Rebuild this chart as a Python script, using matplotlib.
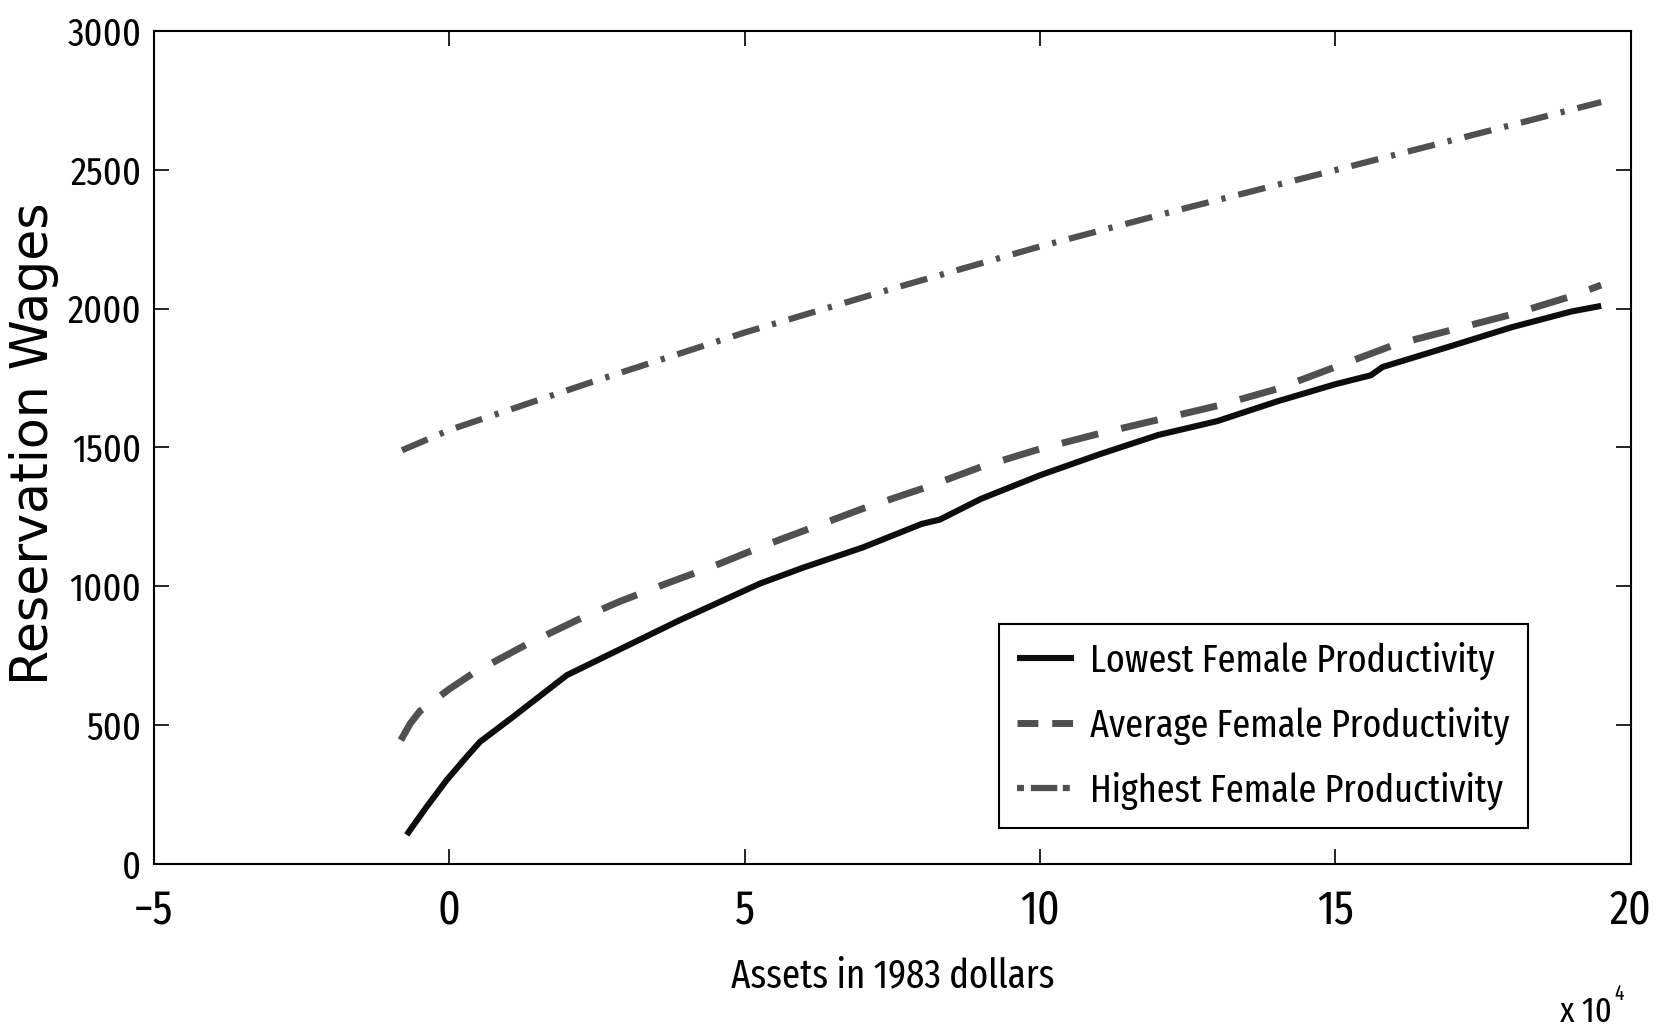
import os
import matplotlib
matplotlib.use("Agg")
import matplotlib.pyplot as plt
from matplotlib import font_manager
from matplotlib.font_manager import FontProperties

plt.rcParams['lines.scale_dashes'] = False

# ---------------- data (assets in units of 10^4 1983 dollars) ----------------
x_low = [-0.72, -0.665, -0.383, -0.045, 0.294, 0.52, 1.08, 1.99, 2.78, 3.9, 5.26, 6.0,
         7.0, 8.0, 8.3, 9.0, 10.0, 11.0, 12.0, 13.0, 14.0, 15.0, 15.6, 15.8, 17.0, 18.0,
         19.0, 19.5]
y_low = [105, 122, 206, 302, 386, 440, 530, 680, 762, 878, 1010, 1068,
         1140, 1225, 1240, 1315, 1400, 1475, 1545, 1595, 1665, 1728, 1760, 1790, 1868, 1934,
         1990, 2010]

x_avg = [-0.82, -0.66, -0.5, -0.3, 0.0, 0.41, 1.31, 2.18, 2.88, 3.65, 4.5, 5.37, 6.0, 7.0,
         8.05, 9.0, 10.0, 11.0, 12.0, 13.0, 14.0, 15.0, 16.0, 17.0, 18.0, 19.0, 19.5]
y_avg = [446, 506, 550, 582, 630, 688, 791, 880, 945, 1008, 1075, 1150, 1200, 1280,
         1355, 1430, 1495, 1550, 1600, 1650, 1710, 1790, 1870, 1925, 1980, 2045, 2085]

x_high = [-0.8, 0.0, 2.5, 5.0, 7.5, 10.0, 12.5, 15.0, 17.5, 19.5]
y_high = [1490, 1563, 1742, 1914, 2072, 2224, 2364, 2499, 2635, 2744]

labels = ['Lowest Female Productivity', 'Average Female Productivity',
          'Highest Female Productivity']
xticks = [-5, 0, 5, 10, 15, 20]
yticks = [0, 500, 1000, 1500, 2000, 2500, 3000]
xlabel = 'Assets in 1983 dollars'
ylabel = 'Reservation Wages'


# ---------------- pick a narrow sans font if one is installed ----------------
def pick_narrow():
    best = None
    for f in font_manager.fontManager.ttflist:
        b = os.path.basename(f.fname).lower().replace('-', '').replace('_', '')
        if f.style != 'normal':
            continue
        if any(k in b for k in ('bold', 'italic', 'oblique', 'light', 'thin', 'medium',
                                'black', 'mono', 'semibold', 'extrabold')):
            continue
        if 'serif' in b and 'sans' not in b:
            continue
        if 'extracondensed' in b:
            rank = 0
        elif 'narrow' in b:
            rank = 1
        elif 'semicondensed' in b:
            rank = 3
        elif 'ultracondensed' in b:
            rank = 4
        elif 'condensed' in b:
            rank = 2
        else:
            continue
        if best is None or rank < best[0]:
            best = (rank, f.fname)
    if best is None:
        return FontProperties(family='Liberation Sans')
    return FontProperties(fname=best[1])


fp = pick_narrow()
fp_y = FontProperties(family='DejaVu Sans')

fig = plt.figure(figsize=(16.64, 10.33), dpi=100)
ax = fig.add_axes([0.0925, 0.1636, 0.8875, 0.8064])
fig.canvas.draw()
renderer = fig.canvas.get_renderer()


def size_for(text, prop, target_px, vertical=False):
    t = fig.text(0, 0, text, fontproperties=prop, fontsize=100,
                 rotation=90 if vertical else 0)
    bb = t.get_window_extent(renderer)
    t.remove()
    return 100.0 * target_px / (bb.height if vertical else bb.width)


def height_px(text, prop, size):
    t = fig.text(0, 0, text, fontproperties=prop, fontsize=size)
    bb = t.get_window_extent(renderer)
    t.remove()
    return bb.height


s_xt = size_for('10', fp, 40)
s_yt = size_for('2500', fp, 71)
s_xl = size_for(xlabel, fp, 324)
s_yl = size_for(ylabel, fp_y, 483, vertical=True)
s_lg = size_for(labels[0], fp, 404)
s_ex = size_for('x 10', fp, 52)

# ---------------- plot ----------------
ax.plot(x_low, y_low, color='#0d0d0d', lw=4.4, solid_capstyle='butt',
        solid_joinstyle='round', label=labels[0])
ax.plot(x_avg, y_avg, color='#505050', lw=5.0, dashes=(27, 17), label=labels[1])
ax.plot(x_high, y_high, color='#505050', lw=4.5, dashes=(20, 9.5, 3, 9.5), label=labels[2])

ax.set_xlim(-5, 20)
ax.set_ylim(0, 3000)
ax.set_xticks(xticks)
ax.set_yticks(yticks)
ax.set_xticklabels([str(t).replace('-', '\u2212') for t in xticks], fontproperties=fp)
ax.set_yticklabels([str(t) for t in yticks], fontproperties=fp)
for lbl in ax.get_xticklabels():
    lbl.set_fontsize(s_xt)
for lbl in ax.get_yticklabels():
    lbl.set_fontsize(s_yt)
ax.tick_params(axis='both', direction='in', length=11, width=1.2, top=True, right=True)
ax.tick_params(axis='x', pad=17)
ax.tick_params(axis='y', pad=9)
for s in ax.spines.values():
    s.set_linewidth(1.5)

ax.set_xlabel(xlabel, fontproperties=fp, fontsize=s_xl, va='center')
ax.xaxis.set_label_coords(0.5, -0.1345)
ax.set_ylabel(ylabel, fontproperties=fp_y, fontsize=s_yl, va='center')
ax.yaxis.set_label_coords(-0.081, 0.505)

fig.text(1560 / 1664, 1 - 1022 / 1033, 'x 10', fontproperties=fp, fontsize=s_ex,
         ha='left', va='baseline')
fig.text(1614 / 1664, 1 - 1000 / 1033, '4', fontproperties=fp, fontsize=s_ex * 0.6,
         ha='left', va='baseline')

# legend geometry derived from reference box (px)
fs_px = s_lg * 100 / 72.0
lab_h = height_px(labels[1], fp, s_lg)
labelspacing = max(0.05, (65 - lab_h) / fs_px)
borderpad = max(0.1, (74 - lab_h) / (2 * fs_px))
handlelength = 57 / fs_px
handletextpad = 16 / fs_px

lprop = fp.copy()
lprop.set_size(s_lg)
leg = ax.legend(loc='lower right', bbox_to_anchor=(0.9302, 0.0432), prop=lprop,
                frameon=True, fancybox=False, framealpha=1, handlelength=handlelength,
                handletextpad=handletextpad, borderpad=borderpad,
                labelspacing=labelspacing, borderaxespad=0)
leg.get_frame().set_edgecolor('black')
leg.get_frame().set_linewidth(1.5)
leg_lines = leg.get_lines()
leg_lines[1].set_dashes((15, 10))
leg_lines[2].set_dashes((5, 5, 19, 4))

fig.savefig('out.png', dpi=100)
